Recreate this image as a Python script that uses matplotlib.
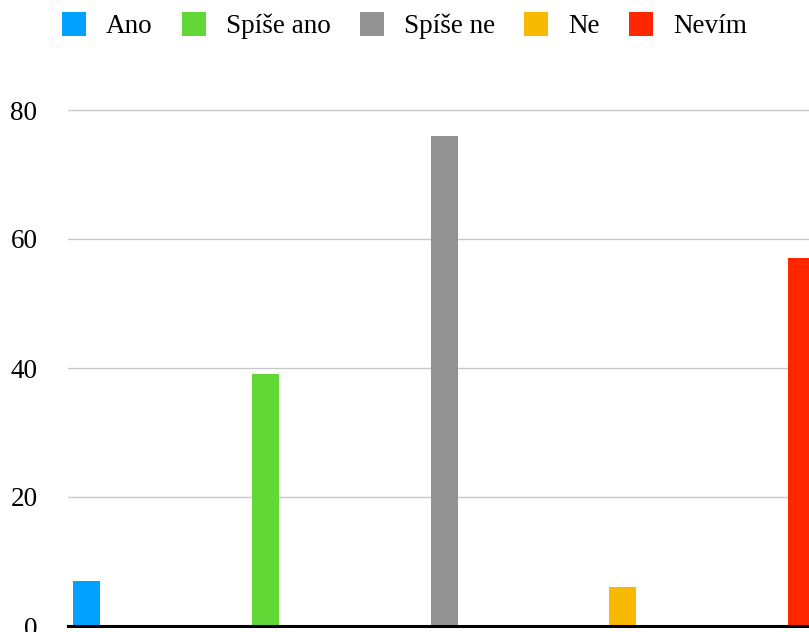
import matplotlib
matplotlib.use("Agg")
import matplotlib.pyplot as plt
from matplotlib.patches import Patch

plt.rcParams['font.family'] = ['Liberation Serif', 'DejaVu Serif']

# Survey answers and counts
categories = ["Ano", "Spíše ano", "Spíše ne", "Ne", "Nevím"]
counts = [7, 39, 76, 6, 57]
colors = ["#00A2FF", "#61D836", "#929292", "#F8BA00", "#FF2600"]
y_ticks = [0, 20, 40, 60, 80]

W, H = 809, 632
fig = plt.figure(figsize=(W / 100, H / 100), dpi=100)

# Plot area: starts at x=68px, extends past the right edge of the canvas
px_per_slot = 178.75
left_px = 68
x0 = -18.5 / px_per_slot
n_slots = 5
axes_w_px = n_slots * px_per_slot
ymax = 84
px_per_unit = 6.45
bottom_px = 6
ax = fig.add_axes([left_px / W, bottom_px / H, axes_w_px / W, ymax * px_per_unit / H])
ax.set_xlim(x0, x0 + n_slots)
ax.set_ylim(0, ymax)

bar_w = 27 / px_per_slot
xs = list(range(len(categories)))
ax.bar(xs, counts, width=bar_w, color=colors, zorder=3)

fs = 19.5
ax.set_yticks(y_ticks)
ax.set_yticklabels([str(v) for v in y_ticks])
ax.set_xticks([])
ax.tick_params(axis='y', length=0, pad=22, labelsize=fs)
ax.yaxis.grid(True, color="#c8c8c8", linewidth=1.0, zorder=0)
ax.set_axisbelow(True)
for s in ax.spines.values():
    s.set_visible(False)
ax.axhline(0, color="black", linewidth=2.2, zorder=4, clip_on=False)

handles = [Patch(facecolor=c, edgecolor='none') for c in colors]
fig.legend(handles, categories, loc='center', bbox_to_anchor=(0.5, 0.96),
           ncol=5, frameon=False, fontsize=fs,
           handlelength=0.886, handleheight=0.99, handletextpad=0.74,
           columnspacing=1.08, borderpad=0, borderaxespad=0)

fig.savefig("out.png", dpi=100)
